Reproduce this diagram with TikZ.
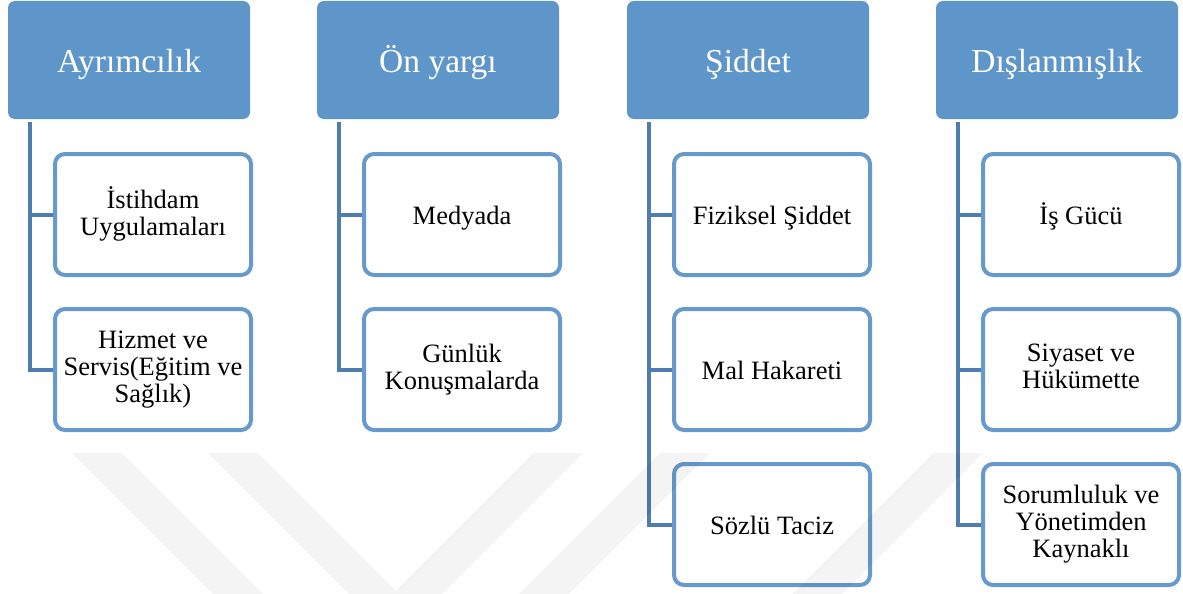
\documentclass[tikz,border=0pt]{standalone}
\usepackage{fontspec}
\setmainfont{Liberation Serif}
\definecolor{headblue}{HTML}{5F96C9}
\definecolor{boxblue}{HTML}{6699CC}
\definecolor{linkblue}{HTML}{4F7DAF}

\begin{document}
\begin{tikzpicture}[x=1pt, y=-1pt,
        head/.style={rectangle, rounded corners=7pt, fill=headblue, text=white,
                minimum width=242pt, minimum height=118pt, inner sep=0pt, outer sep=0pt,
                text height=24pt, text depth=0pt, font=\fontsize{33.5}{36}\selectfont},
        item/.style={rectangle, rounded corners=10pt, draw=boxblue, line width=4pt, fill=white,
                minimum width=196pt, minimum height=121pt, inner sep=0pt, outer sep=0pt,
                align=center, font=\fontsize{26.5}{27}\selectfont,
                execute at begin node={\rule[-6pt]{0pt}{32pt}},
                execute at end node={\rule[-6pt]{0pt}{25pt}}},
        link/.style={draw=linkblue, line width=4pt},
        wmark/.style={fill=black, opacity=0.045}]
        \useasboundingbox (0,0) rectangle (1183,594);
        % headers
        \node[head] (h1) at (129,60)  {Ayrımcılık};
        \node[head] (h2) at (438,60)  {Ön yargı};
        \node[head] (h3) at (748,60)  {Şiddet};
        \node[head] (h4) at (1057,60) {Dışlanmışlık};
        % connectors
        \draw[link] ([xshift=22pt,yshift=-3pt]h1.south west) |- (53,214.5) coordinate (e11);
        \draw[link] ([xshift=22pt,yshift=-3pt]h1.south west) |- (53,369.5) coordinate (e12);
        \draw[link] ([xshift=22pt,yshift=-3pt]h2.south west) |- (362,214.5) coordinate (e21);
        \draw[link] ([xshift=22pt,yshift=-3pt]h2.south west) |- (362,369.5) coordinate (e22);
        \draw[link] ([xshift=22pt,yshift=-3pt]h3.south west) |- (672,214.5) coordinate (e31);
        \draw[link] ([xshift=22pt,yshift=-3pt]h3.south west) |- (672,369.5) coordinate (e32);
        \draw[link] ([xshift=22pt,yshift=-3pt]h3.south west) |- (672,524.5) coordinate (e33);
        \draw[link] ([xshift=22pt,yshift=-3pt]h4.south west) |- (981,214.5) coordinate (e41);
        \draw[link] ([xshift=22pt,yshift=-3pt]h4.south west) |- (981,369.5) coordinate (e42);
        \draw[link] ([xshift=22pt,yshift=-3pt]h4.south west) |- (981,524.5) coordinate (e43);
        % items
        \node[item] (c11) at (153,214.5)  {İstihdam\\Uygulamaları};
        \node[item] (c12) at (153,369.5)  {Hizmet ve\\Servis(Eğitim ve\\Sağlık)};
        \node[item] (c21) at (462,214.5)  {Medyada};
        \node[item] (c22) at (462,369.5)  {Günlük\\Konuşmalarda};
        \node[item] (c31) at (772,214.5)  {Fiziksel Şiddet};
        \node[item] (c32) at (772,369.5)  {Mal Hakareti};
        \node[item] (c33) at (772,524.5)  {Sözlü Taciz};
        \node[item] (c41) at (1081,214.5) {İş Gücü};
        \node[item] (c42) at (1081,369.5) {Siyaset ve\\Hükümette};
        \node[item] (c43) at (1081,524.5) {Sorumluluk ve\\Yönetimden\\Kaynaklı};
        % faint watermark
        \fill[wmark] (72,453) -- (122,453) -- (263,594) -- (213,594) -- cycle;
        \fill[wmark] (208,453) -- (258,453) -- (395.5,590.5) -- (533,453) -- (583,453)
                -- (442,594) -- (349,594) -- cycle;
        \fill[wmark] (660,453) -- (710,453) -- (569,594) -- (519,594) -- cycle;
        \fill[wmark] (933,453) -- (983,453) -- (842,594) -- (792,594) -- cycle;
\end{tikzpicture}
\end{document}
